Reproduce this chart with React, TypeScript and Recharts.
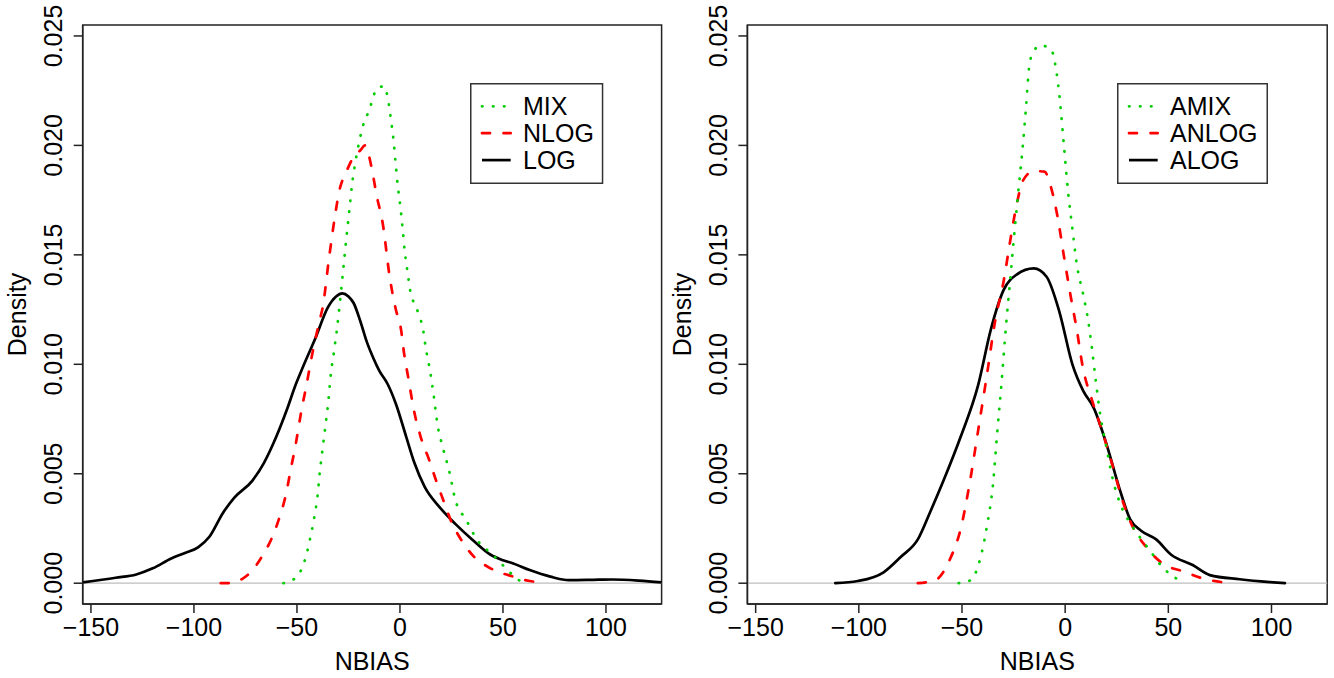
import React from 'react';
import { LineChart, Line, XAxis, YAxis, ReferenceLine, ReferenceArea, Legend } from 'recharts';

const FONT = '"Liberation Sans", Arial, Helvetica, sans-serif';

// axes
const X_DOMAIN: [number, number] = [-154, 127];
const Y_DOMAIN: [number, number] = [-0.00095, 0.0255];
const X_TICKS = [-150, -100, -50, 0, 50, 100];
const Y_TICKS = [0, 0.005, 0.01, 0.015, 0.02, 0.025];
const X_LABEL = 'NBIAS';
const Y_LABEL = 'Density';

// left panel
const LEFT_NAMES = ['MIX', 'NLOG', 'LOG'];
const logX = [-154, -138, -128, -120, -111, -105, -98, -92.5, -86, -80.5, -71.5, -66, -60, -55, -50.5, -47, -41, -35, -31, -28, -25, -22.5, -19, -16, -13, -10, -6, -2, 3, 7, 12, 19, 27, 35, 44, 50, 55, 63, 73, 82, 92, 103, 116, 127];
const logY = [0.00004, 0.00025, 0.0004, 0.00068, 0.00113, 0.00136, 0.00164, 0.00212, 0.0032, 0.0039, 0.0047, 0.0055, 0.0067, 0.0079, 0.0091, 0.0099, 0.0112, 0.0126, 0.0131, 0.01324, 0.0131, 0.0128, 0.0119, 0.011, 0.0103, 0.0097, 0.0091, 0.0082, 0.0067, 0.0055, 0.0044, 0.0035, 0.0027, 0.002, 0.0013, 0.00105, 0.0009, 0.0006, 0.0003, 0.00014, 0.00015, 0.00017, 0.00012, 0.00004];
const nlogX = [-87, -82, -76.5, -72.5, -66.5, -62.5, -58.5, -55.5, -53, -50.5, -48, -45.5, -42.5, -39, -37.5, -34.5, -31.5, -29.5, -26, -23, -19, -17, -15, -13, -11.5, -8.3, -5, -2, 0.5, 2, 4, 7, 10, 14.3, 17.5, 21, 25, 29.6, 36, 44, 55, 63, 69];
const nlogY = [0, 0, 0.0002, 0.0005, 0.0013, 0.002, 0.003, 0.004, 0.0052, 0.0064, 0.0078, 0.009, 0.0105, 0.012, 0.0126, 0.0148, 0.0168, 0.0179, 0.0188, 0.0194, 0.0198, 0.02, 0.0195, 0.0186, 0.0178, 0.0164, 0.014, 0.0125, 0.0116, 0.0105, 0.0094, 0.0078, 0.0067, 0.0056, 0.0047, 0.0038, 0.0028, 0.002, 0.0012, 0.00068, 0.0003, 0.0001, 0.00004];
const mixX = [-56.6, -51.3, -48, -46, -43.7, -41.6, -40, -39, -37.6, -36.3, -35, -33.5, -32, -30.6, -29.4, -27.8, -26.2, -24.5, -23.3, -21.7, -19.7, -17.3, -14.9, -13.3, -11.3, -7.6, -6, -4.4, -3.2, -2.2, -1.1, 0.2, 1.3, 2.4, 3.7, 5.3, 7.5, 9.4, 11, 12.6, 14.6, 16.2, 18.3, 20.8, 23.7, 26.9, 32.1, 37.3, 45, 52.3, 56.7, 61.6];
const mixY = [0, 0.0002, 0.0006, 0.0011, 0.002, 0.003, 0.004, 0.005, 0.0061, 0.0071, 0.0081, 0.0096, 0.0106, 0.0116, 0.0126, 0.0141, 0.0156, 0.0171, 0.0182, 0.0192, 0.0202, 0.0211, 0.0216, 0.0221, 0.0226, 0.0227, 0.0222, 0.0212, 0.0203, 0.0193, 0.0182, 0.0172, 0.0162, 0.0151, 0.0142, 0.0132, 0.0127, 0.0122, 0.0117, 0.0107, 0.0097, 0.0087, 0.0072, 0.0062, 0.0052, 0.0038, 0.0029, 0.002, 0.0013, 0.0006, 0.0002, 0];

// right panel
const RIGHT_NAMES = ['AMIX', 'ANLOG', 'ALOG'];
const alogX = [-111.4, -100.5, -88, -79.7, -71.4, -65.2, -58.9, -50.6, -42.3, -36, -29.8, -23.5, -15.2, -9, -2.8, 3.5, 8.7, 13.9, 20.2, 26.4, 31.6, 36.8, 44.1, 51.4, 61.8, 70.1, 84.6, 99.2, 106.5];
const alogY = [0, 0.0001, 0.0005, 0.0012, 0.002, 0.0033, 0.0047, 0.0067, 0.009, 0.0116, 0.0134, 0.0141, 0.01438, 0.014, 0.0124, 0.01, 0.0088, 0.008, 0.0063, 0.0043, 0.0029, 0.0024, 0.002, 0.0013, 0.00083, 0.00037, 0.00018, 0.00005, 0];
const anlogX = [-71.4, -63.1, -55.8, -50.6, -46.4, -42.3, -38.1, -33.9, -29.8, -26.7, -23.5, -20.4, -15.2, -10, -6.9, -3.8, -0.7, 2.5, 5.6, 8.7, 12.9, 18.1, 23.2, 27.4, 32.6, 38.9, 47.2, 57.6, 65.9, 80.5];
const anlogY = [0, 0.00013, 0.0011, 0.0025, 0.0045, 0.0069, 0.0094, 0.012, 0.0138, 0.0156, 0.0173, 0.0184, 0.01883, 0.0188, 0.0181, 0.0168, 0.015, 0.0132, 0.0116, 0.0098, 0.0084, 0.0069, 0.0053, 0.0039, 0.0026, 0.0017, 0.0009, 0.00053, 0.00024, 0];
const amixX = [-51.6, -46, -41.2, -38.1, -35, -32.9, -30.8, -28.8, -26.7, -24.6, -22.5, -20.4, -19, -17.3, -15.2, -12.1, -6.9, -4.8, -2.8, -0.7, 1.4, 3.5, 5.6, 8.7, 10.8, 12.9, 14.9, 17, 20.2, 23.2, 26.4, 30.5, 34.7, 41, 47.2, 53.5, 58];
const amixY = [0, 0.00013, 0.0011, 0.0025, 0.0045, 0.0069, 0.0092, 0.0116, 0.0138, 0.016, 0.0181, 0.0201, 0.0217, 0.0237, 0.0243, 0.02457, 0.0244, 0.0237, 0.0223, 0.0201, 0.0179, 0.0162, 0.0146, 0.0132, 0.0122, 0.0108, 0.0092, 0.0077, 0.0061, 0.0047, 0.0037, 0.0029, 0.0023, 0.0015, 0.00073, 0.00024, 0];

const GREEN = '#00CD00';
const RED = '#FF0000';
const BLACK = '#000000';
const LW = 2.7;
const DOT = '0.5 10.5';
const DASH = '8 13.5';

const toPoints = (xs: number[], ys: number[]) => xs.map((x, i) => ({ x, y: ys[i] }));

type Series = { name: string; color: string; dash?: string; data: { x: number; y: number }[] };

const fmtX = (v: number) => (v < 0 ? '\u2212' + Math.abs(v) : String(v));

const XTick = (props: any) => {
  const { x, y, payload } = props;
  return (
    <text x={x} y={y + 23} textAnchor="middle" fontSize={25} fontFamily={FONT} fill="#000">
      {fmtX(payload.value)}
    </text>
  );
};

const YTick = (props: any) => {
  const { x, y, payload } = props;
  const bx = x - 11.5;
  return (
    <text x={bx} y={y} transform={`rotate(-90 ${bx} ${y})`} textAnchor="middle" fontSize={25} fontFamily={FONT} fill="#000">
      {Number(payload.value).toFixed(3)}
    </text>
  );
};

const XLabel = (props: any) => {
  const vb = props.viewBox || {};
  const cx = (vb.x ?? 0) + (vb.width ?? 0) / 2;
  const by = (vb.y ?? 604) + 66;
  return (
    <text x={cx} y={by} textAnchor="middle" fontSize={25} fontFamily={FONT} fill="#000">
      {X_LABEL}
    </text>
  );
};

const makeYLabel = (baseX: number) => (props: any) => {
  const vb = props.viewBox || {};
  const cy = (vb.y ?? 25) + (vb.height ?? 579) / 2;
  const bx = (vb.x ?? 0) + baseX;
  return (
    <text x={bx} y={cy} transform={`rotate(-90 ${bx} ${cy})`} textAnchor="middle" fontSize={25} fontFamily={FONT} fill="#000">
      {Y_LABEL}
    </text>
  );
};

const LegendBox = ({ series, width }: { series: Series[]; width: number }) => {
  const rows = [23.3, 50.2, 77.1];
  return (
    <svg width={width} height={101} style={{ display: 'block', overflow: 'visible' }}>
      <rect x={0.75} y={0.75} width={width - 1.5} height={99.5} fill="#fff" stroke="#333" strokeWidth={1.5} />
      {series.map((s, i) => (
        <g key={s.name}>
          <line x1={12} x2={40.7} y1={rows[i]} y2={rows[i]} stroke={s.color} strokeWidth={LW}
            strokeDasharray={s.dash} strokeLinecap={s.dash ? 'round' : 'butt'} />
          <text x={53} y={rows[i] + 8.8} fontSize={25} fontFamily={FONT} fill="#000">{s.name}</text>
        </g>
      ))}
    </svg>
  );
};

const Panel = ({ series, yAxisWidth, marginRight, legendLeft, legendWidth, yLabelBase }: {
  series: Series[]; yAxisWidth: number; marginRight: number; legendLeft: number; legendWidth: number; yLabelBase: number;
}) => {
  const YLabel = makeYLabel(yLabelBase);
  const drawOrder = [series[2], series[1], series[0]];
  return (
    <LineChart width={667} height={678} margin={{ top: 25, right: marginRight, bottom: 0, left: 0 }}>
      <XAxis dataKey="x" type="number" domain={X_DOMAIN} ticks={X_TICKS} interval={0} allowDataOverflow
        height={74} tickSize={9} tickMargin={0} tick={<XTick />}
        axisLine={{ stroke: '#222', strokeWidth: 1.5 }} tickLine={{ stroke: '#222', strokeWidth: 1.5 }}
        label={<XLabel />} />
      <YAxis dataKey="y" type="number" domain={Y_DOMAIN} ticks={Y_TICKS} interval={0} allowDataOverflow
        width={yAxisWidth} tickSize={9} tickMargin={0} tick={<YTick />}
        axisLine={{ stroke: '#222', strokeWidth: 1.5 }} tickLine={{ stroke: '#222', strokeWidth: 1.5 }}
        label={<YLabel />} />
      <ReferenceLine y={0} stroke="#BEBEBE" strokeWidth={1.3} />
      <ReferenceArea x1={X_DOMAIN[0]} x2={X_DOMAIN[1]} y1={Y_DOMAIN[0]} y2={Y_DOMAIN[1]}
        fill="none" fillOpacity={0} stroke="#222" strokeWidth={1.5} />
      {drawOrder.map((s) => (
        <Line key={s.name} data={s.data} dataKey="y" type="monotone" stroke={s.color} strokeWidth={LW}
          strokeDasharray={s.dash} strokeLinecap="round" strokeLinejoin="round"
          dot={false} activeDot={false} isAnimationActive={false} name={s.name} />
      ))}
      <Legend layout="horizontal" verticalAlign="middle" align="center"
        wrapperStyle={{ position: 'absolute', left: legendLeft, top: 82.7, width: legendWidth, height: 101 }}
        content={() => <LegendBox series={series} width={legendWidth} />} />
    </LineChart>
  );
};

const leftSeries: Series[] = [
  { name: LEFT_NAMES[0], color: GREEN, dash: DOT, data: toPoints(mixX, mixY) },
  { name: LEFT_NAMES[1], color: RED, dash: DASH, data: toPoints(nlogX, nlogY) },
  { name: LEFT_NAMES[2], color: BLACK, data: toPoints(logX, logY) },
];
const rightSeries: Series[] = [
  { name: RIGHT_NAMES[0], color: GREEN, dash: DOT, data: toPoints(amixX, amixY) },
  { name: RIGHT_NAMES[1], color: RED, dash: DASH, data: toPoints(anlogX, anlogY) },
  { name: RIGHT_NAMES[2], color: BLACK, data: toPoints(alogX, alogY) },
];

export default function App() {
  return (
    <div style={{ position: 'absolute', left: 0, top: 0, width: 1334, height: 678, background: '#fff', fontFamily: FONT }}>
      <div style={{ position: 'absolute', left: 0, top: 0 }}>
        <Panel series={leftSeries} yAxisWidth={82.7} marginRight={5.4} legendLeft={470} legendWidth={133.3} yLabelBase={26} />
      </div>
      <div style={{ position: 'absolute', left: 667, top: 0 }}>
        <Panel series={rightSeries} yAxisWidth={80.4} marginRight={6.8} legendLeft={450.3} legendWidth={151} yLabelBase={24} />
      </div>
    </div>
  );
}
